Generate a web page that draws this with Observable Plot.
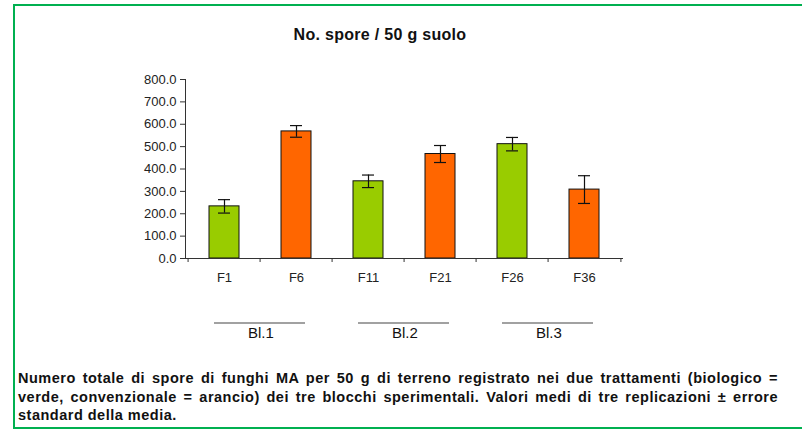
<!DOCTYPE html>
<html>
<head>
<meta charset="utf-8">
<script src="https://cdn.jsdelivr.net/npm/d3@7"></script>
<script src="https://cdn.jsdelivr.net/npm/@observablehq/plot@0.6"></script>
<style>
  body { margin: 0; background: #fff; font-family: "Liberation Sans", Arial, sans-serif; }
  #wrap { position: relative; width: 802px; height: 430px; overflow: hidden; }
  #frame { position: absolute; left: 13px; top: 4px; width: 800px; height: 425px; border: 2.5px solid #00B050; border-right: none; box-sizing: border-box; }
  #title { position: absolute; left: 180px; width: 400px; top: 26px; text-align: center; font-weight: bold; font-size: 16px; letter-spacing: 0.3px; color: #111; }
  #chart { position: absolute; left: 0; top: 60px; }
  #caption { position: absolute; left: 18px; top: 369px; width: 760px; font-weight: bold; font-size: 14.5px; letter-spacing: 0.5px; line-height: 18.5px; color: #111; }
  #caption .j { text-align: justify; text-align-last: justify; white-space: nowrap; }
  #caption .j { white-space: normal; }
</style>
</head>
<body>
<div id="wrap">
  <div id="frame"></div>
  <div id="title">No. spore / 50 g suolo</div>
  <div id="chart"></div>
  <div id="caption"><div class="j">Numero totale di spore di funghi MA per 50 g di terreno registrato nei due trattamenti (biologico =</div><div class="j">verde, convenzionale = arancio) dei tre blocchi sperimentali. Valori medi di tre replicazioni ± errore</div><div>standard della media.</div></div>
</div>
<script>
const categories = ["F1", "F6", "F11", "F21", "F26", "F36"];
const values = [233, 568, 345, 467, 511, 308];
const errors = [30, 26, 28, 38, 30, 62];
const treatment = ["biologico", "convenzionale", "biologico", "convenzionale", "biologico", "convenzionale"];
const yTicks = [0, 100, 200, 300, 400, 500, 600, 700, 800];
const blocks = ["Bl.1", "Bl.2", "Bl.3"];
const blockStart = ["F1", "F11", "F26"];
const blockEnd = ["F6", "F21", "F36"];

const data = categories.map((c, i) => ({c, v: values[i], e: errors[i], t: treatment[i]}));
const blockData = blocks.map((b, i) => ({b, s: blockStart[i], e: blockEnd[i]}));

const W = 802, H = 300, ML = 185, MR = 180;
const step = (W - ML - MR) / categories.length;

const plot = Plot.plot({
  width: W, height: H,
  marginLeft: ML, marginRight: MR, marginTop: 19, marginBottom: 102,
  style: {fontFamily: "'Liberation Sans', Arial, sans-serif", color: "#222", background: "transparent"},
  x: {domain: categories, paddingInner: 0.59, paddingOuter: 0.295, label: null},
  y: {domain: [0, 800], label: null},
  color: {domain: ["biologico", "convenzionale"], range: ["#99CC00", "#FF6600"]},
  marks: [
    Plot.barY(data, {x: "c", y: "v", fill: "t", stroke: "#111", strokeWidth: 1}),
    Plot.ruleX(data, {x: "c", y1: d => d.v - d.e, y2: d => d.v + d.e, stroke: "#111", strokeWidth: 1.2}),
    Plot.tickY(data, {x: "c", y: d => d.v - d.e, stroke: "#111", strokeWidth: 1.2, insetLeft: 9, insetRight: 9}),
    Plot.tickY(data, {x: "c", y: d => d.v + d.e, stroke: "#111", strokeWidth: 1.2, insetLeft: 9, insetRight: 9}),
    Plot.frame({anchor: "left", stroke: "#333"}),
    Plot.frame({anchor: "bottom", stroke: "#333"}),
    Plot.axisY({ticks: yTicks, tickFormat: d3.format(".1f"), tickSize: 5, tickPadding: 4, fontSize: 13, stroke: "#333", style: {letterSpacing: "0.5px"}}),
    Plot.axisX({tickSize: 4, tickFormat: () => "", dx: -step / 2, stroke: "#333"}),
    Plot.axisX({ticks: [categories[categories.length - 1]], tickSize: 4, tickFormat: () => "", dx: step / 2, stroke: "#333"}),
    Plot.axisX({tickSize: 0, tickPadding: 14, fontSize: 13, style: {letterSpacing: "1px"}}),
    Plot.ruleY(blockData, {x1: "s", x2: "e", y: () => 0, dy: 64.5, insetLeft: 5, insetRight: 6, stroke: "#444", strokeWidth: 1.2}),
    Plot.text(blockData, {x: "s", y: () => 0, text: "b", dx: step / 2, dy: 75, fontSize: 15, fill: "#111"})
  ]
});
document.getElementById("chart").appendChild(plot);
</script>
</body>
</html>
